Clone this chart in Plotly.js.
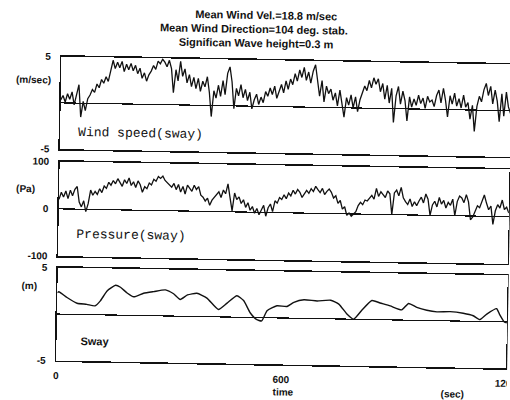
<!DOCTYPE html>
<html>
<head>
<meta charset="utf-8">
<script src="https://cdn.plot.ly/plotly-3.0.1.min.js"></script>
<style>
html,body{margin:0;padding:0;background:#fff;overflow:hidden;}
#chart{width:510px;height:400px;transform:rotate(1deg);transform-origin:255px 200px;}
</style>
</head>
<body>
<div id="chart"></div>
<script>
// ---- data ----
const titleLines = ["Mean Wind Vel.=18.8 m/sec", "Mean Wind Direction=104 deg. stab.", "Significan Wave height=0.3 m"];
const sampleStep = 6; // seconds between wind / pressure samples
const windSpeed = [
 0.3, 0.8, 0.1, 1.0, 0.4, 1.2, -0.2, 0.9, 2.0, -1.5,
 0.2, -0.8, 0.5, 0.9, 1.5, 1.2, 2.1, 1.7, 2.6, 2.2,
 2.9, 2.4, 3.6, 4.7, 3.8, 4.5, 3.9, 4.6, 3.5, 4.3,
 3.7, 4.4, 3.6, 4.2, 3.3, 3.9, 2.8, 3.4, 2.5, 3.2,
 3.6, 4.2, 3.8, 4.7, 4.4, 4.9, 4.6, 4.1, 4.8, 3.9,
 1.3, 3.8, 2.6, 4.7, 3.1, 3.9, 2.4, 3.3, 2.0, 3.0,
 1.8, 2.9, 1.5, 2.6, 2.0, 3.1, 1.4, -1.2, 1.6, 0.8,
 2.2, 1.0, 2.7, 1.2, 3.5, 4.2, 2.6, -0.3, 1.9, 1.1,
 2.3, 0.9, 1.8, 0.6, 1.5, -0.3, 0.7, 1.3, 0.2, 1.0,
 0.4, 1.6, 1.1, 2.0, 1.3, 2.2, 0.9, 1.8, 2.4, 1.5,
 2.8, 1.9, 3.0, 2.4, 3.6, 2.8, 4.0, 3.2, 4.3, 2.9,
 3.8, 2.6, 3.9, 4.6, 3.1, 1.2, 2.9, 0.6, 2.3, 1.5,
 2.0, 0.8, 1.6, 0.2, 1.9, 0.5, -1.0, 1.1, 0.3, 1.4,
 0.0, 1.2, -0.4, 0.9, 1.6, 2.4, 1.9, 3.0, 2.2, 3.3,
 2.6, 3.2, 1.8, 2.7, 1.0, 2.5, 0.6, 2.2, -1.5, 1.4,
 2.4, 0.5, 1.9, 0.9, -1.3, 1.3, 0.2, 1.1, 0.4, 1.5,
 0.6, 1.2, 0.1, 1.4, 0.8, 1.0, 0.3, 1.5, 2.1, 0.7,
 2.3, 1.0, -0.8, 1.5, 0.6, 1.8, 0.4, 1.2, 0.2, 1.6,
 0.3, 0.8, -1.0, 0.5, -2.3, 0.4, 1.5, 0.9, 2.2, 2.9,
 1.6, 2.6, 0.7, 2.2, 1.0, -1.2, 1.8, -0.6, 2.0, 0.4,
 -0.3
];
const pressure = [
 20, 35, 25, 38, 22, 40, 28, 42, 48, 15,
 5, 18, -5, 12, 41, 30, 38, 32, 44, 36,
 50, 45, 58, 52, 62, 55, 66, 58, 50, 64,
 56, 68, 52, 60, 48, 62, 54, 38, 50, 46,
 58, 54, 66, 62, 72, 68, 73, 64, 60, 55,
 50, 58, 45, 56, 40, 52, 36, 55, 48, 42,
 55, 46, 52, 34, 30, 22, 28, 13, 24, 30,
 34, 42, 30, 46, 38, 59, 30, 2, 40, 26,
 32, 18, 26, 10, 20, 4, 12, -2, 8, -5,
 5, 15, -8, 10, 18, 2, 25, 20, 32, 28,
 38, 30, 42, 36, 48, 40, 50, 44, 33, 40,
 48, 42, 52, 46, 57, 50, 44, 53, 40, 47,
 52, 45, 33, 38, 22, 28, 10, 15, -3, 2,
 -5, 0, 5, 18, 25, 20, 30, 28, 35, 40,
 32, 55, 38, 48, 42, 36, 50, 44, 0, 46,
 52, 40, 58, 36, 28, 22, 34, 18, 28, 20,
 30, 38, 26, 45, 34, 0, 22, 30, 18, 38,
 24, 32, 16, 28, 22, 35, 0, 30, 42, 38,
 28, 45, 30, -8, -2, 12, 22, 18, 30, 45,
 28, 14, 22, -17, 12, 25, 18, 35, 15, 20,
 8
];
const swayTime = [0, 4, 26, 53, 79, 101, 115, 133, 155, 168, 186, 204, 230, 257, 288, 310, 328, 347, 372, 399, 430, 453, 479, 497, 515, 532, 546, 560, 586, 613, 631, 658, 693, 729, 751, 773, 791, 813, 839, 861, 888, 919, 937, 959, 986, 1013, 1048, 1083, 1110, 1128, 1146, 1172, 1180, 1193, 1200];
const sway = [2.3, 2.4, 1.8, 1.2, 1.1, 0.95, 1.5, 2.6, 3.2, 3.0, 2.4, 2.0, 2.4, 2.6, 2.8, 2.4, 1.8, 2.3, 2.5, 2.0, 0.8, 1.5, 2.3, 1.8, 0.5, -0.2, -0.35, 0.75, 1.3, 1.25, 1.7, 2.0, 1.9, 2.0, 1.6, 0.55, 0.0, 1.0, 2.05, 1.8, 1.5, 1.1, 1.8, 1.4, 1.1, 0.95, 1.0, 0.85, 0.6, 0.2, 0.8, 1.4, 0.8, 0.0, -0.1];
const xTickVals = [0, 600, 1200];
const xTickText = ["0", "600", "1200"];
const panel1Ticks = [-5, 5], panel1TickText = ["-5", "5"];
const panel2Ticks = [-100, 0, 100], panel2TickText = ["-100", "0", "100"];
const panel3Ticks = [-5, 5], panel3TickText = ["-5", "5"];

// ---- build ----
const sampleTime = windSpeed.map((_, i) => i * sampleStep);
const W = 510, H = 400;
const fx = p => p / W, fy = p => 1 - p / H;
const lineStyle = {color: "#111", width: 1.3};
const traces = [
  {x: sampleTime, y: windSpeed, xaxis: "x", yaxis: "y", type: "scatter", mode: "lines", line: lineStyle, hoverinfo: "skip"},
  {x: sampleTime, y: pressure, xaxis: "x2", yaxis: "y2", type: "scatter", mode: "lines", line: lineStyle, hoverinfo: "skip"},
  {x: swayTime, y: sway, xaxis: "x3", yaxis: "y3", type: "scatter", mode: "lines", line: {color: "#111", width: 1.4, shape: "spline", smoothing: 0.5}, hoverinfo: "skip"}
];
const boldFont = {family: "Liberation Sans, Arial, sans-serif", size: 10, color: "#111", weight: "bold"};
const xDom = [fx(59), fx(509)];
function xa(anchor, showLabels) {
  return {anchor: anchor, domain: xDom, range: [0, 1200], showgrid: false, zeroline: false, showline: true, mirror: true,
    linecolor: "#111", linewidth: 1.5, ticks: "", tickvals: xTickVals, ticktext: xTickText,
    showticklabels: showLabels, tickfont: boldFont, ticklabelstandoff: 5, ticklabeloverflow: "allow", fixedrange: true};
}
function ya(anchor, top, bottom, range, vals, text) {
  return {anchor: anchor, domain: [fy(bottom), fy(top)], range: range, showgrid: false, zeroline: true, zerolinecolor: "#111",
    zerolinewidth: 1.2, showline: true, mirror: true, linecolor: "#111", linewidth: 1.5, ticks: "",
    tickvals: vals, ticktext: text, tickfont: boldFont, ticklabelstandoff: 7, fixedrange: true};
}
function ann(text, x, y, font, anchor) {
  return {text: text, x: fx(x), y: fy(y), xref: "paper", yref: "paper", showarrow: false,
    xanchor: anchor || "center", yanchor: "middle", font: font};
}
const titleFont = {family: "Liberation Sans, Arial, sans-serif", size: 11, color: "#111", weight: "bold"};
const monoFont = {family: "Liberation Mono, DejaVu Sans Mono, monospace", size: 13, color: "#111"};
const layout = {
  width: W, height: H, margin: {l: 0, r: 0, t: 0, b: 0},
  paper_bgcolor: "#fff", plot_bgcolor: "#fff", showlegend: false,
  xaxis: xa("y", false), xaxis2: xa("y2", false), xaxis3: xa("y3", true),
  yaxis: ya("x", 60, 152.5, [-5, 5], panel1Ticks, panel1TickText),
  yaxis2: ya("x2", 165, 259.5, [-100, 100], panel2Ticks, panel2TickText),
  yaxis3: ya("x3", 271, 364, [-5, 5], panel3Ticks, panel3TickText),
  annotations: [
    ann(titleLines[0], 263, 15, titleFont),
    ann(titleLines[1], 251, 29, titleFont),
    ann(titleLines[2], 253, 43, titleFont),
    ann("(m/sec)", 31, 83, boldFont),
    ann("(Pa)", 25, 192, boldFont),
    ann("(m)", 31, 289, boldFont),
    ann("Wind speed(sway)", 139, 135, monoFont),
    ann("Pressure(sway)", 131, 237, monoFont),
    ann("Sway", 97, 344, {family: "Liberation Sans, Arial, sans-serif", size: 11, color: "#111", weight: "bold"}),
    ann("time", 286, 391, boldFont),
    ann("(sec)", 455, 390, boldFont)
  ]
};
Plotly.newPlot("chart", traces, layout, {staticPlot: true, displayModeBar: false});
</script>
</body>
</html>
